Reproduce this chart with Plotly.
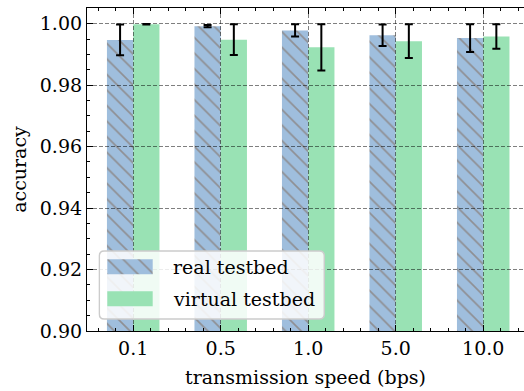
import plotly.graph_objects as go

# Transmission speeds (bps) and measured accuracy per testbed
speeds = ["0.1", "0.5", "1.0", "5.0", "10.0"]
real_acc = [0.9947, 0.9992, 0.9978, 0.9962, 0.9953]
real_err = [0.0050, 0.0004, 0.0020, 0.0035, 0.0045]
virtual_acc = [0.9998, 0.9948, 0.9923, 0.9943, 0.9958]
virtual_err = [0.0001, 0.0050, 0.0075, 0.0055, 0.0040]

series_names = ["real testbed", "virtual testbed"]
y_ticks = [0.90, 0.92, 0.94, 0.96, 0.98, 1.00]

BLUE = "#9fbedd"
GREEN = "#99e2b4"
HATCH = "#8f8f93"
FONT = "DejaVu Serif"
FS = 19

x_idx = list(range(len(speeds)))
x_range = [-0.528, 4.466]
y_range = [0.9, 1.0051]

hatch = dict(shape="\\", fillmode="replace", bgcolor=BLUE,
             fgcolor=HATCH, size=11, solidity=0.15)

fig = go.Figure()

err_style = dict(type="data", visible=True, color="black", thickness=2, width=4)

fig.add_trace(go.Bar(
    x=x_idx, y=real_acc, name=series_names[0], showlegend=False,
    marker=dict(color=BLUE, line=dict(width=0), pattern=hatch),
    error_y=dict(array=real_err, **err_style),
))
fig.add_trace(go.Bar(
    x=x_idx, y=virtual_acc, name=series_names[1], showlegend=False,
    marker=dict(color=GREEN, line=dict(width=0)),
    error_y=dict(array=virtual_err, **err_style),
))

# Empty trace so the overlay subplot carrying the dashed grid gets drawn
fig.add_trace(go.Scatter(x=[None], y=[None], xaxis="x2", yaxis="y2",
                         showlegend=False, hoverinfo="skip"))

# Legend drawn in its own small subplot so it sits above the grid
legend_w, legend_h = 227, 70
key_x0, key_len, key_h = 9, 45.4, 15
key_rows = [53.2, 21.2]
fig.add_trace(go.Bar(
    y=[key_rows[0]], x=[key_len], base=[key_x0], orientation="h", width=[key_h],
    xaxis="x3", yaxis="y3", showlegend=False, hoverinfo="skip",
    marker=dict(color=BLUE, line=dict(width=0), pattern=hatch),
))
fig.add_trace(go.Bar(
    y=[key_rows[1]], x=[key_len], base=[key_x0], orientation="h", width=[key_h],
    xaxis="x3", yaxis="y3", showlegend=False, hoverinfo="skip",
    marker=dict(color=GREEN, line=dict(width=0)),
))

r = 5
i = 1
w, h = legend_w - i, legend_h - i
box_path = (f"M {i + r},{i} L {w - r},{i} Q {w},{i} {w},{i + r} "
            f"L {w},{h - r} Q {w},{h} {w - r},{h} L {i + r},{h} "
            f"Q {i},{h} {i},{h - r} L {i},{i + r} Q {i},{i} {i + r},{i} Z")
fig.add_shape(type="path", path=box_path, xref="x3", yref="y3", layer="below",
              fillcolor="rgba(255,255,255,0.85)", line=dict(color="#cccccc", width=1.5))

for name, yy in zip(series_names, key_rows):
    fig.add_annotation(x=72.4, y=yy, xref="x3", yref="y3", text=name,
                       showarrow=False, xanchor="left", yanchor="middle",
                       font=dict(family=FONT, size=FS, color="black"))

tick_font = dict(family=FONT, size=FS, color="black")
grid_style = dict(showgrid=True, gridcolor="rgba(0,0,0,0.5)", gridwidth=1, griddash="4px,2px",
                  showticklabels=False, ticks="", showline=False, zeroline=False)

fig.update_layout(
    width=524, height=391,
    margin=dict(l=87, r=0, t=8, b=60),
    paper_bgcolor="white", plot_bgcolor="rgba(0,0,0,0)",
    barmode="group", bargap=0.4, bargroupgap=0,
    font=dict(family=FONT, size=FS, color="black"),
    xaxis=dict(
        domain=[0, 1], range=x_range, tickmode="array", tickvals=x_idx, ticktext=speeds,
        ticks="inside", ticklen=6, tickwidth=1.2, tickcolor="black",
        minor=dict(tickmode="linear", tick0=0, dtick=0.2, ticks="inside", ticklen=3,
                   tickwidth=1.2, tickcolor="black", showgrid=False),
        showline=True, linecolor="black", linewidth=1.2, mirror="ticks",
        showgrid=False, zeroline=False, tickfont=tick_font,
        title=dict(text="transmission speed (bps)", font=tick_font, standoff=12),
        layer="above traces",
    ),
    yaxis=dict(
        domain=[0, 1], range=y_range, tickmode="array", tickvals=y_ticks,
        tickformat=".2f",
        ticks="inside", ticklen=6, tickwidth=1.2, tickcolor="black",
        minor=dict(tickmode="linear", tick0=0.9, dtick=0.005, ticks="inside", ticklen=3,
                   tickwidth=1.2, tickcolor="black", showgrid=False),
        showline=True, linecolor="black", linewidth=1.2, mirror=False,
        showgrid=False, zeroline=False, tickfont=tick_font,
        title=dict(text="accuracy", font=tick_font, standoff=8),
        layer="above traces",
    ),
    # dashed grid drawn over the bars
    xaxis2=dict(domain=[0, 1], range=x_range, anchor="y2", tickmode="array",
                tickvals=x_idx, **grid_style),
    yaxis2=dict(domain=[0, 1], range=y_range, anchor="x2", tickmode="array",
                tickvals=y_ticks, **grid_style),
    xaxis3=dict(domain=[(98.3 - 87) / 437, (98.3 + legend_w - 87) / 437], range=[0, legend_w],
                anchor="y3", visible=False, fixedrange=True),
    yaxis3=dict(domain=[(331 - 320) / 323, (331 - 320 + legend_h) / 323], range=[0, legend_h],
                anchor="x3", visible=False, fixedrange=True),
)

fig.write_html("out.html")
